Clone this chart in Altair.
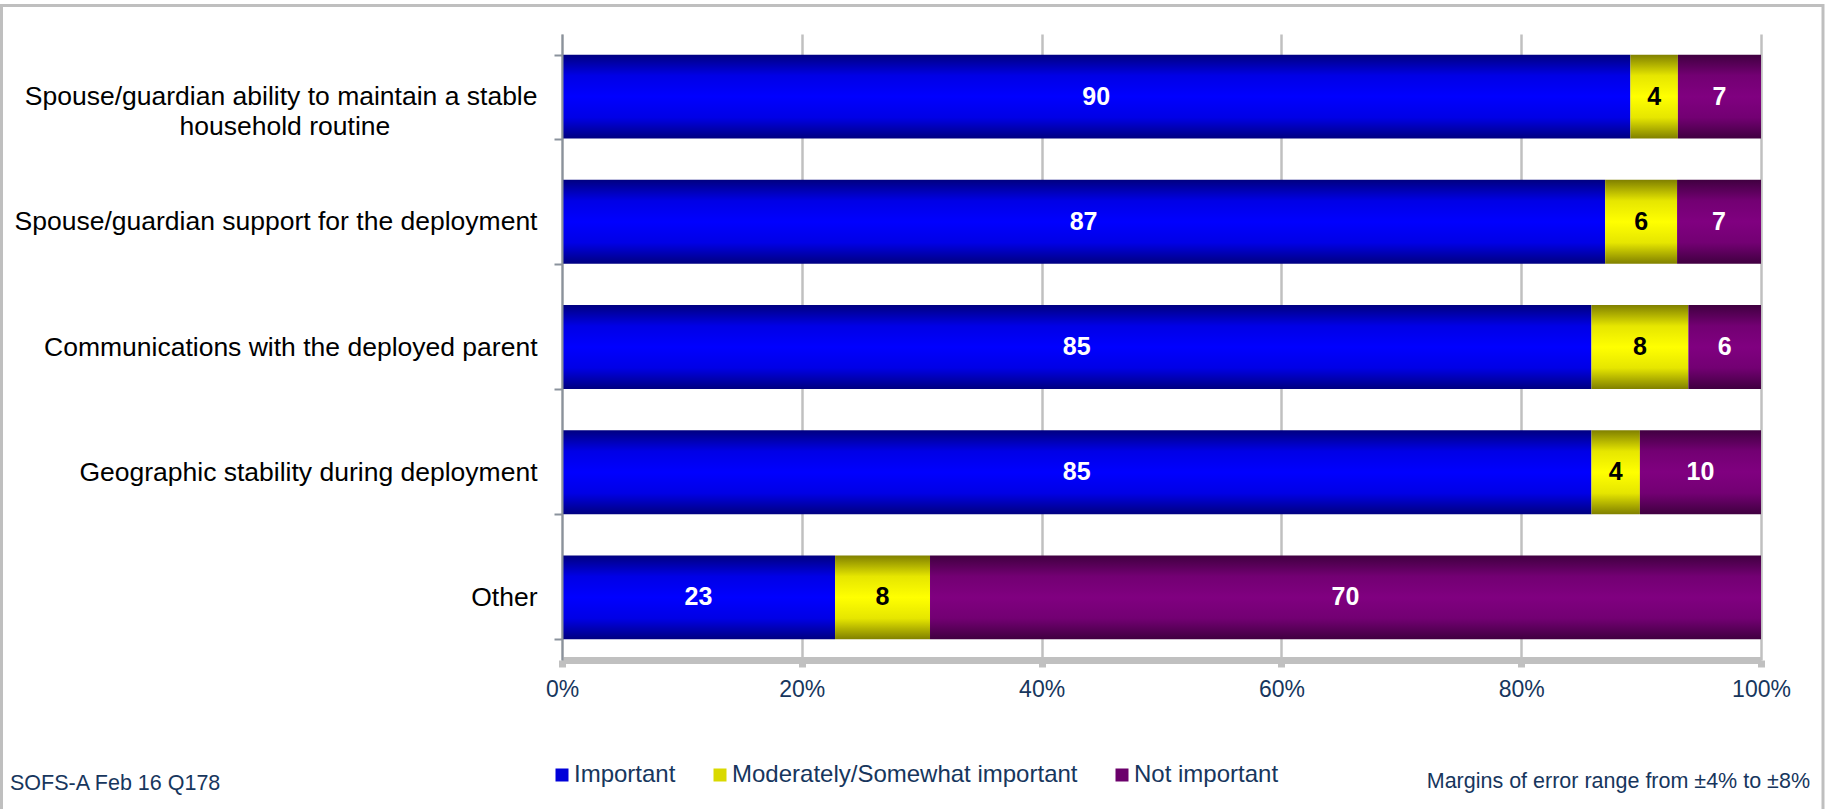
import altair as alt
import pandas as pd

# ---- data ----
items = [
    "Spouse/guardian ability to maintain a stable household routine",
    "Spouse/guardian support for the deployment",
    "Communications with the deployed parent",
    "Geographic stability during deployment",
    "Other",
]
categories = ["Important", "Moderately/Somewhat important", "Not important"]
important = [90, 87, 85, 85, 23]
moderate = [4, 6, 8, 4, 8]
not_important = [7, 7, 6, 10, 70]

x_ticks = [0, 0.2, 0.4, 0.6, 0.8, 1.0]
footer_left = "SOFS-A Feb 16 Q178"
footer_right = "Margins of error range from \u00b14% to \u00b18%"

# ---- styles ----
FONT = "Liberation Sans"
NAVY = "#17365d"
GRID = "#c0c0c0"


def grad(edge, mid, center):
    return {
        "gradient": "linear", "x1": 0, "y1": 0, "x2": 0, "y2": 1,
        "stops": [
            {"offset": 0, "color": edge},
            {"offset": 0.25, "color": mid},
            {"offset": 0.5, "color": center},
            {"offset": 0.75, "color": mid},
            {"offset": 1, "color": edge},
        ],
    }


gradients = [
    grad("#000080", "#0000e6", "#0000ff"),
    grad("#808000", "#e6e600", "#ffff00"),
    grad("#400040", "#730073", "#800080"),
]
legend_colors = ["#0000d9", "#d9d900", "#6b006b"]

rows = []
for i, item in enumerate(items):
    for j, vals in enumerate([important, moderate, not_important]):
        rows.append({"item": item, "category": categories[j], "order": j, "value": vals[i]})
df = pd.DataFrame(rows)

# multi-line label for the first item (second line centred under the first)
first_line = "Spouse/guardian ability to maintain a stable"
second_line = "household routine" + "\u00a0" * 20 + "\u200b"
label_expr = (
    f"datum.value == '{items[0]}' ? ['{first_line}', '{second_line}'] : datum.value"
)

base = (
    alt.Chart(df)
    .transform_joinaggregate(total="sum(value)", groupby=["item"])
    .transform_window(cum="sum(value)", groupby=["item"],
                      sort=[alt.SortField("order")], frame=[None, 0])
    .transform_calculate(
        start="(datum.cum - datum.value) / datum.total",
        end="datum.cum / datum.total",
        mid="(datum.cum - datum.value / 2) / datum.total",
    )
)

y_axis = alt.Axis(
    title=None, labelFontSize=26.5, labelColor="black", labelPadding=17,
    labelLimit=800, labelLineHeight=30, labelExpr=label_expr, labelAlign="right",
    tickSize=8, tickWidth=2, tickColor="#8a929c", domainColor="#8a929c",
    domainWidth=2, tickBand="extent", grid=False, zindex=1,
)
x_axis = alt.Axis(
    title=None, values=x_ticks, format=".0%", labelFontSize=23, labelColor=NAVY,
    labelPadding=11, labelFlush=False, labelOverlap=False,
    tickSize=7, tickWidth=7, tickColor=GRID, domainColor=GRID, domainWidth=7,
    grid=True, gridColor=GRID, gridWidth=2.5,
)
y_enc = alt.Y("item:N", sort=items, axis=y_axis,
              scale=alt.Scale(paddingInner=0.33, paddingOuter=0.165))
x_scale = alt.Scale(domain=[0, 1])

bars = [
    base.transform_filter(alt.datum.category == cat)
    .mark_bar(fill=g)
    .encode(x=alt.X("start:Q", scale=x_scale, axis=x_axis), x2="end:Q", y=y_enc)
    for cat, g in zip(categories, gradients)
]

labels = base.mark_text(fontSize=25, fontWeight="bold", font=FONT).encode(
    x=alt.X("mid:Q", scale=x_scale, axis=x_axis),
    y=y_enc,
    text=alt.Text("value:Q"),
    color=alt.condition(alt.datum.category == categories[1],
                        alt.value("black"), alt.value("white")),
)

legend_layer = base.mark_square(opacity=0).encode(
    x=alt.X("mid:Q", scale=x_scale, axis=x_axis),
    y=y_enc,
    fill=alt.Fill(
        "category:N",
        scale=alt.Scale(domain=categories, range=legend_colors),
        legend=alt.Legend(
            title=None, orient="none", legendX=-12, legendY=729,
            direction="horizontal", symbolType="square", symbolSize=169,
            symbolOpacity=1, symbolStrokeWidth=0, labelFontSize=24,
            labelColor=NAVY, labelFont=FONT, labelOffset=0, columnPadding=32,
            labelLimit=600, padding=0,
        ),
    ),
)

frame = alt.Chart(pd.DataFrame({"k": [0]})).mark_rect(
    fillOpacity=0, stroke="#bfbfbf", strokeWidth=3
).encode(
    x=alt.value(-560.5), x2=alt.value(1261), y=alt.value(-28.5), y2=alt.value(790)
)

foot_l = alt.Chart(pd.DataFrame({"t": [footer_left]})).mark_text(
    align="left", baseline="alphabetic", fontSize=21.5, color=NAVY, font=FONT
).encode(text="t:N", x=alt.value(-552), y=alt.value(756))

foot_r = alt.Chart(pd.DataFrame({"t": [footer_right]})).mark_text(
    align="right", baseline="alphabetic", fontSize=21.5, color=NAVY, font=FONT
).encode(text="t:N", x=alt.value(1248), y=alt.value(754))

chart = (
    alt.layer(frame, *bars, labels, legend_layer, foot_l, foot_r)
    .properties(
        width=1199, height=626,
        padding={"left": 562, "top": 34, "right": 64, "bottom": 149},
        autosize=alt.AutoSizeParams(type="none"),
        background="white",
    )
    .configure(font=FONT)
    .configure_view(stroke="transparent")
)

chart.save("out.html", embed_options={"renderer": "svg", "actions": False})
